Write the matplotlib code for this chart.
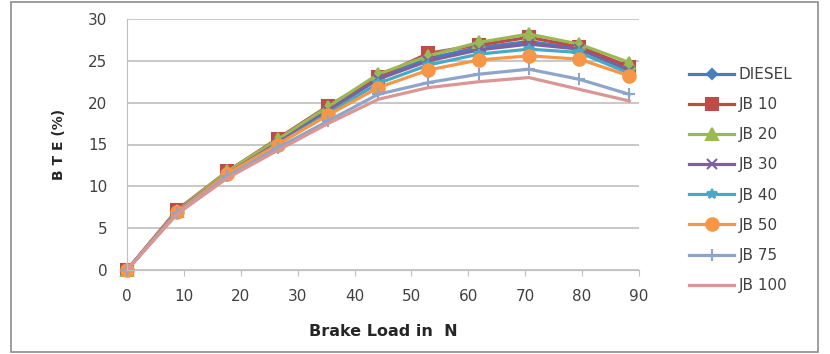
import matplotlib
matplotlib.use("Agg")
import matplotlib.pyplot as plt
from matplotlib.patches import Rectangle

plt.rcParams['font.family'] = ['DejaVu Sans']

load = [0, 8.83, 17.66, 26.49, 35.32, 44.15, 52.98, 61.81, 70.64, 79.47, 88.3]
series_names = ["DIESEL", "JB 10", "JB 20", "JB 30", "JB 40", "JB 50", "JB 75", "JB 100"]
diesel = [0, 7.0, 11.6, 15.3, 19.2, 23.0, 25.3, 26.6, 27.3, 26.5, 24.0]
jb10 = [0, 7.2, 11.8, 15.7, 19.6, 23.1, 25.9, 26.9, 27.8, 26.7, 24.3]
jb20 = [0, 7.1, 11.8, 15.6, 19.5, 23.4, 25.6, 27.2, 28.2, 27.0, 24.8]
jb30 = [0, 7.0, 11.5, 15.2, 19.0, 22.8, 25.0, 26.3, 27.0, 26.4, 23.8]
jb40 = [0, 6.9, 11.4, 15.0, 18.7, 22.3, 24.5, 25.8, 26.4, 26.0, 23.5]
jb50 = [0, 6.9, 11.5, 15.0, 18.5, 21.8, 23.9, 25.1, 25.6, 25.2, 23.2]
jb75 = [0, 6.8, 11.2, 14.6, 17.8, 21.0, 22.4, 23.4, 24.0, 22.8, 21.0]
jb100 = [0, 6.7, 11.0, 14.3, 17.5, 20.4, 21.8, 22.5, 23.0, 21.6, 20.2]
all_series = [diesel, jb10, jb20, jb30, jb40, jb50, jb75, jb100]
x_ticks = [0, 10, 20, 30, 40, 50, 60, 70, 80, 90]
y_ticks = [0, 5, 10, 15, 20, 25, 30]

colors = ["#4A7EBB", "#BE4B48", "#98B954", "#7D60A0", "#46AAC5", "#F79646", "#8EA5CB", "#D99694"]
markers = ["D", "s", "^", "x", "*", "o", "+", None]
msizes = [5, 9, 8, 7, 7, 9, 8, 0]

fig = plt.figure(figsize=(8.3, 3.54), dpi=100)
fig.patches.append(Rectangle((11/830, 1-352/354), (818-11)/830, (352-2)/354,
                             transform=fig.transFigure, fill=False,
                             edgecolor="#8c8c8c", linewidth=1.2))
ax = fig.add_axes([127/830, 1-270/354, (639-127)/830, (270-19)/354])

for name, vals, c, m, ms in zip(series_names, all_series, colors, markers, msizes):
    ax.plot(load, vals, color=c, linewidth=2.3, marker=m, markersize=ms,
            markeredgecolor=c, markerfacecolor=c, markeredgewidth=1.5, label=name,
            clip_on=False)

ax.set_xlim(0, 90)
ax.set_ylim(0, 30)
ax.set_xticks(x_ticks)
ax.set_yticks(y_ticks)
ax.grid(axis="y", color="#bfbfbf", linewidth=1.2)
ax.set_axisbelow(True)
for s in ["top", "right"]:
    ax.spines[s].set_visible(False)
ax.spines["left"].set_color("#bfbfbf")
ax.spines["bottom"].set_color("#bfbfbf")
ax.tick_params(axis="x", length=4, color="#bfbfbf", labelsize=11, labelcolor="#404040", pad=10)
ax.tick_params(axis="y", length=0, labelsize=11, labelcolor="#404040", pad=14)

ax.set_xlabel("Brake Load in  N", fontsize=11.5, fontweight="bold", color="#262626", labelpad=14)
ax.set_ylabel("B T E (%)", fontsize=10, fontweight="bold", color="#262626", labelpad=16)

leg = fig.legend(loc="upper left", bbox_to_anchor=(683/830, 1-61/354), frameon=False,
                 fontsize=11, handlelength=2.95, handletextpad=0.3, labelspacing=0.99,
                 borderaxespad=0)
for t in leg.get_texts():
    t.set_color("#404040")

fig.savefig("out.png", dpi=100)
